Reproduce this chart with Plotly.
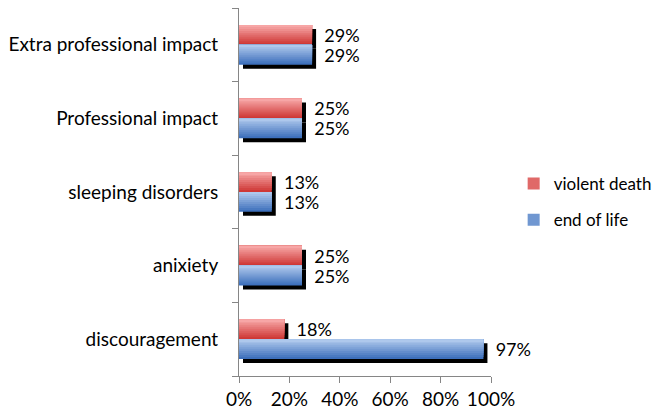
import plotly.graph_objects as go

categories = ["discouragement", "anixiety", "sleeping disorders", "Professional impact", "Extra professional impact"]
violent_death = [18, 25, 13, 25, 29]
end_of_life = [97, 25, 13, 25, 29]
series_names = ["violent death", "end of life"]
x_ticks = [0, 20, 40, 60, 80, 100]

FONT = "Lato"
FS = 19
W = 0.27          # bar thickness in category units
N = 10            # gradient strips
SHADOW_PX = 4
PLOT_W = 252.0
PLOT_H = 368.0

def lerp(c1, c2, t):
    return "rgb(%d,%d,%d)" % tuple(round(a + (b - a) * t) for a, b in zip(c1, c2))

red_top, red_bot = (247, 166, 166), (206, 56, 54)
blue_top, blue_bot = (174, 200, 236), (62, 112, 188)

fig = go.Figure()

# shadows (base axes, shifted)
for vals, off in [(violent_death, 0.0), (end_of_life, -W)]:
    fig.add_trace(go.Bar(y=categories, x=vals, orientation="h", offset=off, width=W,
                         marker=dict(color="black", line=dict(width=0)),
                         showlegend=False, hoverinfo="skip", xaxis="x", yaxis="y"))

def add_series(vals, name, top_off, ctop, cbot, rank):
    for k in range(N - 1, -1, -1):
        h = (k + 1) * W / N
        t = k / (N - 1)
        col = lerp(ctop, cbot, t)
        first = (k == N - 1)
        fig.add_trace(go.Bar(
            y=categories, x=vals, orientation="h",
            offset=top_off - h, width=h,
            marker=dict(color=col, line=dict(width=0)),
            text=["\u00a0\u00a0%d%%" % v for v in vals] if first else None,
            textposition="outside" if first else "none",
            constraintext="none", cliponaxis=False,
            textfont=dict(family=FONT, size=18, color="black"),
            name=name, legendgroup=name, legendrank=rank,
            showlegend=(k == N // 2),
            hoverinfo="skip", xaxis="x2", yaxis="y2"))

add_series(violent_death, series_names[0], W, red_top, red_bot, 1)
add_series(end_of_life, series_names[1], 0.0, blue_top, blue_bot, 2)

dx = SHADOW_PX * 100 / PLOT_W
dy = SHADOW_PX * 5 / PLOT_H

# page body has an 8px margin, so the figure is sized/offset to compensate
fig.update_layout(
    width=655, height=406,
    margin=dict(l=231, r=172, t=0, b=38, autoexpand=False),
    paper_bgcolor="white", plot_bgcolor="white",
    barmode="overlay",
    font=dict(family=FONT, size=FS, color="black"),
    showlegend=True,
    legend=dict(xref="container", yref="container", x=0.772, y=0.522,
                xanchor="left", yanchor="middle",
                traceorder="grouped", tracegroupgap=11,
                font=dict(family=FONT, size=17, color="black"),
                bgcolor="rgba(0,0,0,0)"),
    xaxis=dict(range=[0 - dx, 100 - dx], visible=False, fixedrange=True, automargin=False),
    yaxis=dict(type="category", categoryorder="array", categoryarray=categories,
               range=[-0.5 + dy, 4.5 + dy], visible=False, automargin=False),
    xaxis2=dict(overlaying="x", anchor="y2", side="bottom", range=[0, 100],
                tickvals=x_ticks, ticktext=["%d%%" % v for v in x_ticks],
                ticks="outside", ticklen=6, tickcolor="#868686",
                showline=True, linecolor="#868686", linewidth=1,
                showgrid=False, zeroline=False, automargin=False,
                tickfont=dict(family=FONT, size=FS, color="black")),
    yaxis2=dict(overlaying="y", anchor="x2", side="left", type="category",
                categoryorder="array", categoryarray=categories,
                range=[-0.5, 4.5], tickson="boundaries",
                ticks="outside", ticklen=6, tickcolor="#868686",
                showline=True, linecolor="#868686", linewidth=1,
                showgrid=False, zeroline=False, ticklabelstandoff=16, automargin=False,
                tickfont=dict(family=FONT, size=FS, color="black")),
)

fig.write_html("out.html")
